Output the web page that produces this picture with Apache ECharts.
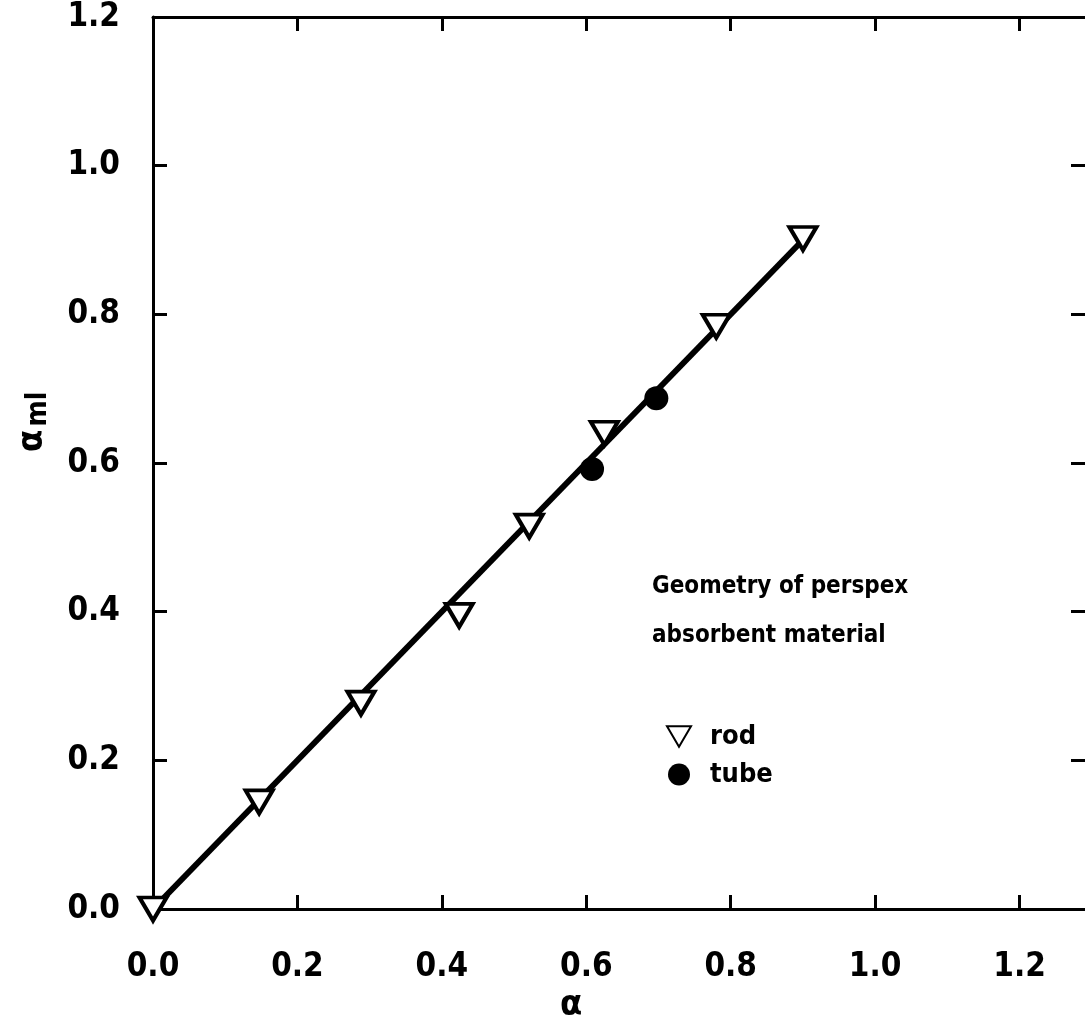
<!DOCTYPE html>
<html>
<head>
<meta charset="utf-8">
<script src="https://cdn.jsdelivr.net/npm/echarts@6/dist/echarts.min.js"></script>
<style>
  html, body { margin: 0; padding: 0; background: #fff; }
  #chart { width: 1085px; height: 1027px; }
</style>
</head>
<body>
<div id="chart"></div>
<script>
// data
var rodX = [0.0, 0.147, 0.288, 0.424, 0.521, 0.625, 0.780, 0.900];
var rodY = [0.0, 0.144, 0.277, 0.395, 0.515, 0.640, 0.784, 0.902];
var tubeX = [0.608, 0.697];
var tubeY = [0.592, 0.687];
var fitX = [0.0, 0.9];
var fitY = [0.0, 0.9];
var tickLabels = ['0.0', '0.2', '0.4', '0.6', '0.8', '1.0', '1.2'];

function pairs(xs, ys) {
    return xs.map(function (x, i) { return [x, ys[i]]; });
}

var font = 'DejaVu Sans Condensed';
var labelFmt = function (v) {
    var s = tickLabels[Math.round(v / 0.2)];
    return s === undefined ? '' : s;
};

var axisBase = {
    type: 'value',
    interval: 0.2,
    min: 0,
    axisLine: { onZero: false, lineStyle: { color: '#000', width: 3 } },
    axisTick: { inside: true, length: 14, lineStyle: { color: '#000', width: 3 } },
    splitLine: { show: false }
};

var chart = echarts.init(document.getElementById('chart'));
var option = {
    animation: false,
    backgroundColor: '#fff',
    // right edge of the frame lies just outside the picture
    grid: { left: 153, right: -14, top: 17, bottom: 118, outerBoundsMode: 'none', containLabel: false },
    xAxis: [
        Object.assign({}, axisBase, {
            max: 1.31,
            position: 'bottom',
            axisLabel: { formatter: labelFmt, showMaxLabel: false, margin: 42,
                fontFamily: font, fontSize: 33, fontWeight: 'bold', color: '#000' }
        }),
        Object.assign({}, axisBase, {
            max: 1.31,
            position: 'top',
            axisLabel: { show: false }
        })
    ],
    yAxis: [
        Object.assign({}, axisBase, {
            max: 1.2,
            position: 'left',
            axisLabel: { formatter: labelFmt, margin: 33,
                fontFamily: font, fontSize: 33, fontWeight: 'bold', color: '#000' }
        }),
        Object.assign({}, axisBase, {
            max: 1.2,
            position: 'right',
            axisTick: { inside: true, length: 28, lineStyle: { color: '#000', width: 3 } },
            axisLabel: { show: false }
        })
    ],
    legend: {
        orient: 'vertical',
        left: 661,
        top: 718,
        itemWidth: 24,
        itemHeight: 22,
        itemGap: 11,
        textStyle: { fontFamily: font, fontSize: 27, fontWeight: 'bold', color: '#000',
                     padding: [0, 0, 0, 14] },
        data: [
            { name: 'rod', icon: 'path://M0,0 L20,0 L10,17 Z' },
            { name: 'tube', icon: 'circle' }
        ]
    },
    graphic: [
        { type: 'text', left: 652, top: 562,
          style: { text: 'Geometry of perspex\nabsorbent material', lineHeight: 49,
                   font: 'bold 24px "' + font + '"', fill: '#000' } },
        { type: 'text', left: 560, top: 988,
          style: { text: 'α', font: 'bold 36px "' + font + '"', fill: '#000' } },
        { type: 'text', x: 13, y: 452, rotation: Math.PI / 2,
          style: { text: '{a|α} {s|ml}', fill: '#000',
                   rich: {
                       a: { fontFamily: font, fontSize: 36, fontWeight: 'bold' },
                       s: { fontFamily: font, fontSize: 28, fontWeight: 'bold', padding: [12, 0, 0, 0] }
                   } } }
    ],
    series: [
        {
            name: 'fit',
            type: 'line',
            data: pairs(fitX, fitY),
            showSymbol: false,
            lineStyle: { color: '#000', width: 6 },
            z: 1
        },
        {
            name: 'rod',
            type: 'scatter',
            data: pairs(rodX, rodY),
            symbol: 'triangle',
            symbolRotate: 180,
            symbolSize: [27, 23],
            itemStyle: { color: '#fff', borderColor: '#000', borderWidth: 4, opacity: 1 },
            z: 3
        },
        {
            name: 'tube',
            type: 'scatter',
            data: pairs(tubeX, tubeY),
            symbol: 'circle',
            symbolSize: 24,
            itemStyle: { color: '#000', opacity: 1 },
            z: 3
        }
    ]
};
chart.setOption(option);
</script>
</body>
</html>
